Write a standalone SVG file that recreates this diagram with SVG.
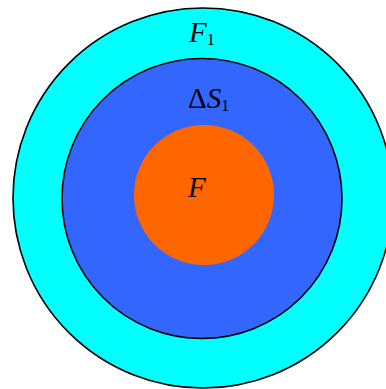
<svg xmlns="http://www.w3.org/2000/svg" width="386" height="389" viewBox="0 0 386 389">
<style>
.lbl{font-family:"Liberation Serif","Times New Roman",serif;fill:#000}
.it{font-style:italic}
.sub{font-size:16px}
</style>
<rect width="386" height="389" fill="#fff"/>
<g id="outer">
<circle cx="203" cy="198" r="190" fill="#00ffff" stroke="#000" stroke-width="1.6"/>
<text class="lbl" x="189" y="42" font-size="29"><tspan class="it">F</tspan><tspan class="sub" dy="3">1</tspan></text>
</g>
<g id="middle">
<circle cx="202" cy="198.5" r="140" fill="#3366ff" stroke="#000" stroke-width="1.6"/>
<text class="lbl" x="188" y="108" font-size="29">Δ<tspan class="it">S</tspan><tspan class="sub" dy="3">1</tspan></text>
</g>
<g id="inner">
<circle cx="204" cy="195" r="70" fill="#ff6600"/>
<text class="lbl it" x="188" y="197" font-size="29">F</text>
</g>
</svg>
